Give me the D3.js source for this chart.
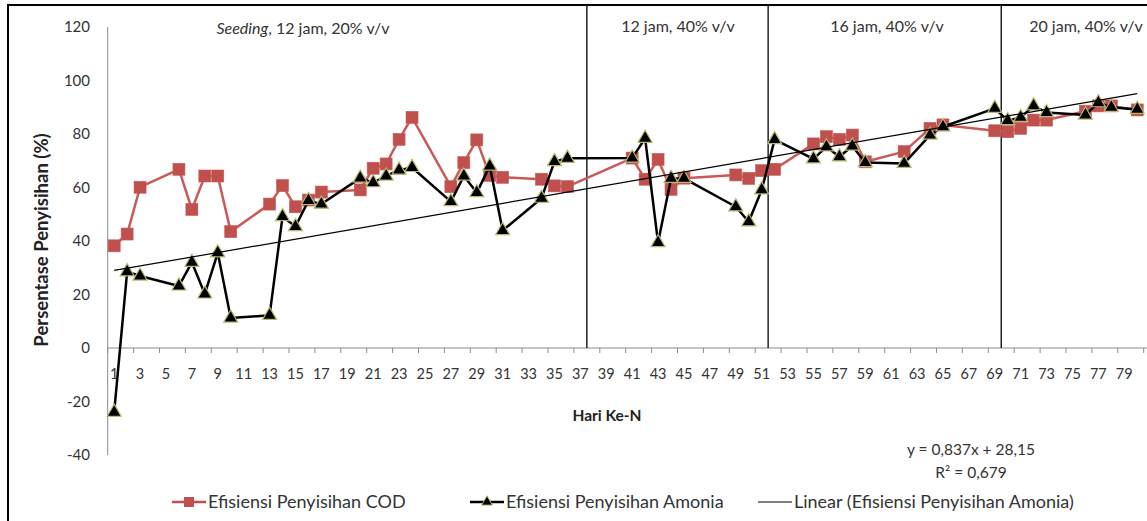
<!DOCTYPE html>
<html><head><meta charset="utf-8">
<script src="https://cdn.jsdelivr.net/npm/d3@7"></script>
<style>body{margin:0;background:#fff;overflow:hidden} svg{display:block}</style>
</head><body>
<svg id="chart" width="1147" height="521"></svg>
<script>
// ---- data ----
const days = [1,2,3,6,7,8,9,10,13,14,15,16,17,20,21,22,23,24,27,28,29,30,31,34,35,36,41,42,43,44,45,49,50,51,52,55,56,57,58,59,62,64,65,69,70,71,72,73,76,77,78,80];
const codValues = [38.2,42.6,60.1,66.8,51.8,64.3,64.3,43.5,53.8,60.7,52.8,55.3,58.3,59.1,67.2,68.8,78.0,86.2,60.3,69.3,77.8,64.5,63.8,63.1,60.6,60.3,71.0,63.1,70.5,59.3,63.5,64.7,63.4,66.3,66.8,76.3,79.0,78.0,79.6,69.6,73.4,82.1,83.4,81.2,80.9,82.1,85.2,85.2,88.5,90.5,90.5,89.0];
const amoniaValues = [-24,28.5,26.9,23.2,32.0,20.2,35.6,11.2,12.2,49.1,45.4,55.1,53.8,63.5,61.8,64.3,66.5,67.5,54.7,64.3,58.1,68.0,43.9,56.0,69.7,70.9,71.0,78.4,39.4,63.4,63.4,52.8,47.2,59.1,77.9,70.7,75.2,71.5,75.5,69.3,69.0,79.6,82.7,89.6,85.0,86.2,90.5,88.0,87.1,91.7,90.0,89.2];
const yTickValues = [-40,-20,0,20,40,60,80,100,120];
const xTickLabels = d3.range(1, 80, 2);
const phaseBoundaryDays = [37.5, 51.5, 69.5];
const phaseLabels = ["12 jam, 40% v/v", "16 jam, 40% v/v", "20 jam, 40% v/v"];
const seedingLabel = ["Seeding", ", 12 jam, 20% v/v"];
const trendSlope = 0.837, trendIntercept = 28.15;
const trendDays = [1, 80];
const equationText = ["y = 0,837x + 28,15", "R² = 0,679"];
const seriesNames = ["Efisiensi Penyisihan COD", "Efisiensi Penyisihan Amonia", "Linear (Efisiensi Penyisihan Amonia)"];
const xTitle = "Hari Ke-N", yTitle = "Persentase Penyisihan (%)";

// ---- layout ----
const svg = d3.select("#chart");
const FONT = "Lato, 'Open Sans', sans-serif";
const TXT = "#333";
const codColor = "#C0504D";

const x = d3.scaleLinear().domain([0.5, 80.5]).range([107.7, 1143.7]);
const y = d3.scaleLinear().domain([-40, 120]).range([455, 27]);

// outer frame
svg.append("rect").attr("x", 8).attr("y", 5).attr("width", 1200).attr("height", 600)
  .attr("fill", "none").attr("stroke", "#000").attr("stroke-width", 2);

// y axis line
svg.append("line").attr("x1", x(0.5)).attr("x2", x(0.5)).attr("y1", y(120)).attr("y2", y(-40))
  .attr("stroke", "#8c8c8c").attr("stroke-width", 1);
// y tick labels
svg.append("g").selectAll("text").data(yTickValues).join("text")
  .attr("x", 90).attr("y", d => y(d)).attr("dy", "0.35em")
  .attr("text-anchor", "end").attr("font-family", FONT).attr("font-size", 15).attr("fill", TXT)
  .text(d => d);

// x axis
const xAxisG = svg.append("g").attr("transform", `translate(0,${y(0)})`);
xAxisG.append("line").attr("x1", x(0.5)).attr("x2", 1147).attr("stroke", "#8c8c8c").attr("stroke-width", 1);
xAxisG.selectAll("line.tk").data(d3.range(0.5, 81, 2)).join("line").attr("class", "tk")
  .attr("x1", d => x(d)).attr("x2", d => x(d)).attr("y1", 0).attr("y2", 5)
  .attr("stroke", "#8c8c8c").attr("stroke-width", 1);
xAxisG.selectAll("text").data(xTickLabels).join("text")
  .attr("x", d => x(d)).attr("y", 31).attr("text-anchor", "middle")
  .attr("font-family", FONT).attr("font-size", 14.5).attr("fill", TXT).text(d => d);

// phase separator lines
svg.append("g").selectAll("line").data(phaseBoundaryDays).join("line")
  .attr("x1", d => x(d)).attr("x2", d => x(d)).attr("y1", 5).attr("y2", y(0))
  .attr("stroke", "#222").attr("stroke-width", 1.5);

// phase labels
const seed = svg.append("text").attr("x", 303).attr("y", 34).attr("text-anchor", "middle")
  .attr("font-family", FONT).attr("font-size", 16).attr("fill", TXT);
seed.append("tspan").attr("font-style", "italic").text(seedingLabel[0]);
seed.append("tspan").text(seedingLabel[1]);
const phaseLabelX = [678, 887, 1086];
svg.append("g").selectAll("text").data(phaseLabels).join("text")
  .attr("x", (d, i) => phaseLabelX[i]).attr("y", 32).attr("text-anchor", "middle")
  .attr("font-family", FONT).attr("font-size", 16).attr("fill", TXT).text(d => d);

// series
const codData = days.map((d, i) => ({d, v: codValues[i]}));
const amoData = days.map((d, i) => ({d, v: amoniaValues[i]}));
const line = d3.line().x(p => x(p.d)).y(p => y(p.v));

svg.append("path").datum(codData).attr("d", line).attr("fill", "none")
  .attr("stroke", "#c85a57").attr("stroke-width", 2.5).attr("stroke-linejoin", "round");
const sq = 12;
svg.append("g").selectAll("rect").data(codData).join("rect")
  .attr("x", p => x(p.d) - sq/2).attr("y", p => y(p.v) - sq/2).attr("width", sq).attr("height", sq)
  .attr("fill", codColor).attr("stroke", "#c65a57").attr("stroke-width", 0.6);

svg.append("path").datum(amoData).attr("d", line).attr("fill", "none")
  .attr("stroke", "#000").attr("stroke-width", 2.5).attr("stroke-linejoin", "round");
const tri = d3.symbol().type(d3.symbolTriangle).size(85);
svg.append("g").selectAll("path").data(amoData).join("path")
  .attr("transform", p => `translate(${x(p.d)},${y(p.v)})`).attr("d", tri)
  .attr("fill", "#000").attr("stroke", "#b8b870").attr("stroke-width", 1.2);

// trend line
svg.append("path").datum(trendDays.map(d => ({d, v: trendSlope * d + trendIntercept})))
  .attr("d", line).attr("fill", "none").attr("stroke", "#000").attr("stroke-width", 1.2);

// axis titles
svg.append("text").attr("x", 607).attr("y", 421).attr("text-anchor", "middle")
  .attr("font-family", FONT).attr("font-size", 15.5).attr("font-weight", "bold").attr("fill", "#222").text(xTitle);
svg.append("text").attr("transform", "translate(48,240) rotate(-90)").attr("text-anchor", "middle")
  .attr("font-family", FONT).attr("font-size", 18.5).attr("font-weight", "bold").attr("fill", "#222").text(yTitle);

// equation
svg.append("g").selectAll("text").data(equationText).join("text")
  .attr("x", 971).attr("y", (d, i) => 455 + i * 23).attr("text-anchor", "middle")
  .attr("font-family", FONT).attr("font-size", 15.5).attr("fill", TXT).text(d => d);

// legend
const lg = svg.append("g").attr("transform", "translate(0,502)");
const legX = [172, 470, 758];
const items = lg.selectAll("g").data(seriesNames).join("g").attr("transform", (d, i) => `translate(${legX[i]},0)`);
items.append("line").attr("x1", 0).attr("x2", 34).attr("y1", 0).attr("y2", 0)
  .attr("stroke", (d, i) => i === 0 ? codColor : "#000").attr("stroke-width", (d, i) => i === 2 ? 1.2 : 2.5);
items.filter((d, i) => i === 0).append("rect").attr("x", 17 - 5).attr("y", -5).attr("width", 10).attr("height", 10).attr("fill", codColor);
items.filter((d, i) => i === 1).append("path").attr("transform", "translate(17,0)").attr("d", d3.symbol().type(d3.symbolTriangle).size(50))
  .attr("fill", "#000").attr("stroke", "#b8b870").attr("stroke-width", 1);
items.append("text").attr("x", 36).attr("dy", "0.35em").attr("font-family", FONT).attr("font-size", 18)
  .attr("fill", TXT).text(d => d);
</script>
</body></html>
